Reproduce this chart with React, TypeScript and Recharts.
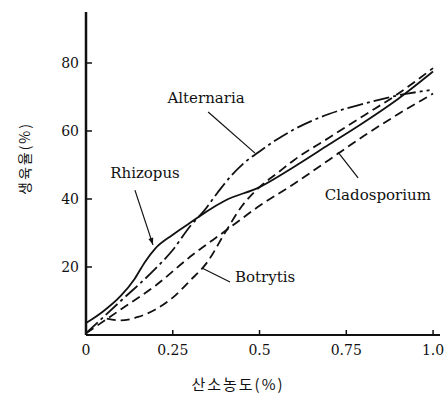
import { ComposedChart, Line, Scatter, XAxis, YAxis, ReferenceLine } from "recharts";

// axis ticks
const xTicks = [0, 0.25, 0.5, 0.75, 1.0];
const yTicks = [20, 40, 60, 80];

// growth curves (x = oxygen %, y = growth %)
const rhizopusX = [0, 0.05, 0.1, 0.14, 0.17, 0.2, 0.25, 0.3, 0.35, 0.4, 0.5, 0.6, 0.7, 0.8, 0.9, 1.0];
const rhizopusY = [3.5, 7, 11.5, 16.5, 21.5, 25.5, 29.5, 33, 36.5, 39.5, 43.5, 49.5, 56, 62.5, 69.5, 77.5];

const alternariaX = [0, 0.1, 0.2, 0.25, 0.3, 0.34, 0.38, 0.42, 0.46, 0.5, 0.55, 0.6, 0.7, 0.8, 0.9, 0.99];
const alternariaY = [0.5, 10, 19.5, 25, 32, 36.5, 42, 47, 51, 54, 57.5, 60.5, 65, 68, 70.5, 72];

const cladosporiumX = [0, 0.1, 0.2, 0.3, 0.4, 0.5, 0.6, 0.7, 0.8, 0.9, 1.0];
const cladosporiumY = [0.5, 7.5, 14.5, 23, 30.5, 38, 44.5, 51.5, 58.5, 65, 71];

const botrytisX = [0.06, 0.1, 0.15, 0.2, 0.25, 0.3, 0.35, 0.4, 0.45, 0.5, 0.55, 0.6, 0.7, 0.8, 0.9, 1.0];
const botrytisY = [4.8, 4.3, 5.3, 7.5, 11, 16, 21.5, 30, 38, 43.5, 47.5, 51.5, 58, 64.5, 71, 78.5];

// curve name labels and their leader lines, in data units
const labelNames = ["Alternaria", "Rhizopus", "Cladosporium", "Botrytis"];
const labelX = [0.346, 0.17, 0.841, 0.516];
const labelY = [69.7, 47.6, 41.2, 17.1];
const leaderStart = [
  { x: 0.352, y: 65.6 },
  { x: 0.141, y: 42.6 },
  { x: 0.726, y: 53.8 },
  { x: 0.334, y: 19.7 },
];
const leaderEnd = [
  { x: 0.487, y: 53.5 },
  { x: 0.193, y: 26.5 },
  { x: 0.784, y: 46.2 },
  { x: 0.415, y: 15.6 },
];

const toPoints = (xs: number[], ys: number[]) => xs.map((x, i) => ({ x, y: ys[i] }));

const labelData = labelNames.map((name, i) => ({ x: labelX[i], y: labelY[i], name }));

const serif = "'DejaVu Serif', serif";
const korean = "'Noto Sans CJK KR', sans-serif";

const LabelText = (p: any) => (
  <text
    x={p.cx}
    y={p.cy}
    textAnchor="middle"
    dominantBaseline="central"
    fontFamily={serif}
    fontSize={15}
    fill="#111"
  >
    {p.payload.name}
  </text>
);

const arrowLine = (p: any) => {
  const { x1, y1, x2, y2 } = p;
  const a = Math.atan2(y2 - y1, x2 - x1);
  const len = 7;
  const w = 2.5;
  const bx = x2 - len * Math.cos(a);
  const by = y2 - len * Math.sin(a);
  const pts = [
    `${x2},${y2}`,
    `${bx - w * Math.sin(a)},${by + w * Math.cos(a)}`,
    `${bx + w * Math.sin(a)},${by - w * Math.cos(a)}`,
  ].join(" ");
  return (
    <g>
      <line x1={x1} y1={y1} x2={x2} y2={y2} stroke="#111" strokeWidth={1.2} />
      <polygon points={pts} fill="#111" />
    </g>
  );
};

const YTitle = (props: any) => {
  const vb = props.viewBox;
  const x = vb.x + 24;
  const y = vb.y + vb.height / 2 - 15;
  return (
    <text
      x={x}
      y={y}
      transform={`rotate(-90, ${x}, ${y})`}
      textAnchor="middle"
      dominantBaseline="central"
      fontFamily={korean}
      fontSize={14}
      letterSpacing={2}
      fill="#111"
    >
      생육율(%)
    </text>
  );
};

const XTitle = (props: any) => {
  const vb = props.viewBox;
  return (
    <text
      x={vb.x + vb.width / 2 - 25}
      y={vb.y + 48}
      textAnchor="middle"
      dominantBaseline="central"
      fontFamily={korean}
      fontSize={15}
      letterSpacing={2}
      fill="#111"
    >
      산소농도(%)
    </text>
  );
};

export default function App() {
  const tickStyle = { fontFamily: serif, fontSize: 14, fill: "#111" };
  return (
    <div style={{ position: "absolute", left: 0, top: 0, width: 444, height: 394, background: "#fff" }}>
      <ComposedChart width={444} height={394} margin={{ top: 12, right: 4, bottom: 0, left: 0 }}>
        <XAxis
          type="number"
          dataKey="x"
          domain={[0, 1.02]}
          ticks={xTicks}
          tickFormatter={(v: number) => (v === 1 ? "1.0" : String(v))}
          height={59}
          axisLine={{ stroke: "#111", strokeWidth: 2 }}
          tickLine={{ stroke: "#111", strokeWidth: 1.5 }}
          tickSize={-5}
          tickMargin={15}
          tick={tickStyle}
          allowDataOverflow
          label={<XTitle />}
        />
        <YAxis
          type="number"
          dataKey="y"
          domain={[0, 95]}
          ticks={yTicks}
          width={86}
          axisLine={{ stroke: "#111", strokeWidth: 2.5 }}
          tickLine={{ stroke: "#111", strokeWidth: 1.5 }}
          tickSize={-6}
          tickMargin={13}
          tick={tickStyle}
          allowDataOverflow
          label={<YTitle />}
        />
        <Line
          data={toPoints(rhizopusX, rhizopusY)}
          dataKey="y"
          type="monotone"
          stroke="#111"
          strokeWidth={1.8}
          dot={false}
          isAnimationActive={false}
        />
        <Line
          data={toPoints(alternariaX, alternariaY)}
          dataKey="y"
          type="monotone"
          stroke="#111"
          strokeWidth={1.8}
          strokeDasharray="16 4 3 4"
          dot={false}
          isAnimationActive={false}
        />
        <Line
          data={toPoints(cladosporiumX, cladosporiumY)}
          dataKey="y"
          type="monotone"
          stroke="#111"
          strokeWidth={1.8}
          strokeDasharray="9 5"
          dot={false}
          isAnimationActive={false}
        />
        <Line
          data={toPoints(botrytisX, botrytisY)}
          dataKey="y"
          type="monotone"
          stroke="#111"
          strokeWidth={1.8}
          strokeDasharray="9 5"
          dot={false}
          isAnimationActive={false}
        />
        {leaderStart.map((s, i) => (
          <ReferenceLine
            key={labelNames[i]}
            segment={[s, leaderEnd[i]]}
            stroke="#111"
            strokeWidth={1.2}
            shape={labelNames[i] === "Rhizopus" ? arrowLine : undefined}
          />
        ))}
        <Scatter data={labelData} dataKey="y" shape={LabelText} isAnimationActive={false} />
      </ComposedChart>
    </div>
  );
}
